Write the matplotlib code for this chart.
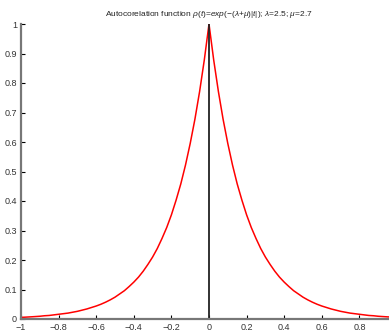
import matplotlib
matplotlib.use("Agg")
import matplotlib.pyplot as plt
import numpy as np

# values of rho(t) for t = 0, 0.025, ..., 1 (the curve is symmetric)
t_half = np.linspace(0, 1, 41)
rho_half = [1.0, 0.878, 0.771, 0.677, 0.595, 0.522, 0.458, 0.403, 0.353, 0.310,
            0.273, 0.239, 0.210, 0.185, 0.162, 0.142, 0.125, 0.110, 0.096, 0.085,
            0.074, 0.065, 0.057, 0.050, 0.044, 0.039, 0.034, 0.030, 0.026, 0.023,
            0.020, 0.018, 0.016, 0.014, 0.012, 0.011, 0.0093, 0.0082, 0.0072, 0.0063,
            0.0055]

t = np.concatenate([-t_half[:0:-1], t_half])
rho = np.concatenate([rho_half[:0:-1], rho_half])

xticks = [-1, -0.8, -0.6, -0.4, -0.2, 0, 0.2, 0.4, 0.6, 0.8]
xticklabels = ["\u22121", "\u22120.8", "\u22120.6", "\u22120.4", "\u22120.2", "0", "0.2", "0.4", "0.6", "0.8"]
yticks = [0, 0.1, 0.2, 0.3, 0.4, 0.5, 0.6, 0.7, 0.8, 0.9, 1]
yticklabels = ["0", "0.1", "0.2", "0.3", "0.4", "0.5", "0.6", "0.7", "0.8", "0.9", "1"]

plt.rcParams['font.family'] = ['Liberation Sans', 'DejaVu Sans']
plt.rcParams['mathtext.fontset'] = 'custom'
plt.rcParams['mathtext.rm'] = 'Liberation Sans'
plt.rcParams['mathtext.it'] = 'Liberation Sans:italic'

fig = plt.figure(figsize=(3.89, 3.31), dpi=100)
W, H = 389, 331
x0, x1 = 21, 397   # pixel of t=-1 and t=1 (axes runs past the right edge)
y0, y1 = 319, 24   # pixel of rho=0 and rho=1
ax = fig.add_axes([x0 / W, 1 - y0 / H, (x1 - x0) / W, (y0 - y1) / H])

ax.plot(t, rho, color='red', lw=1.1)
ax.plot([0, 0], [0, 1], color='#222222', lw=1.3)

ax.set_xlim(-1, 1)
ax.set_ylim(0, 1)
ax.set_xticks(xticks)
ax.set_xticklabels(xticklabels)
ax.set_yticks(yticks)
ax.set_yticklabels(yticklabels)
ax.tick_params(direction='in', length=3, width=0.8, color='black',
               labelsize=6.5, labelcolor='#333333')
ax.tick_params(axis='x', pad=3)
ax.tick_params(axis='y', pad=3)
for s in ['top', 'right']:
    ax.spines[s].set_visible(False)
for s in ['left', 'bottom']:
    ax.spines[s].set_color('#777777')
    ax.spines[s].set_linewidth(1.6)

ax.set_title("Autocorelation function $\\rho(t)$=$exp(-(\\lambda$+$\\mu)|t|)$; $\\lambda$=2.5; $\\mu$=2.7",
             fontsize=6, color='#222222', pad=6)

fig.savefig("out.png", dpi=100)
